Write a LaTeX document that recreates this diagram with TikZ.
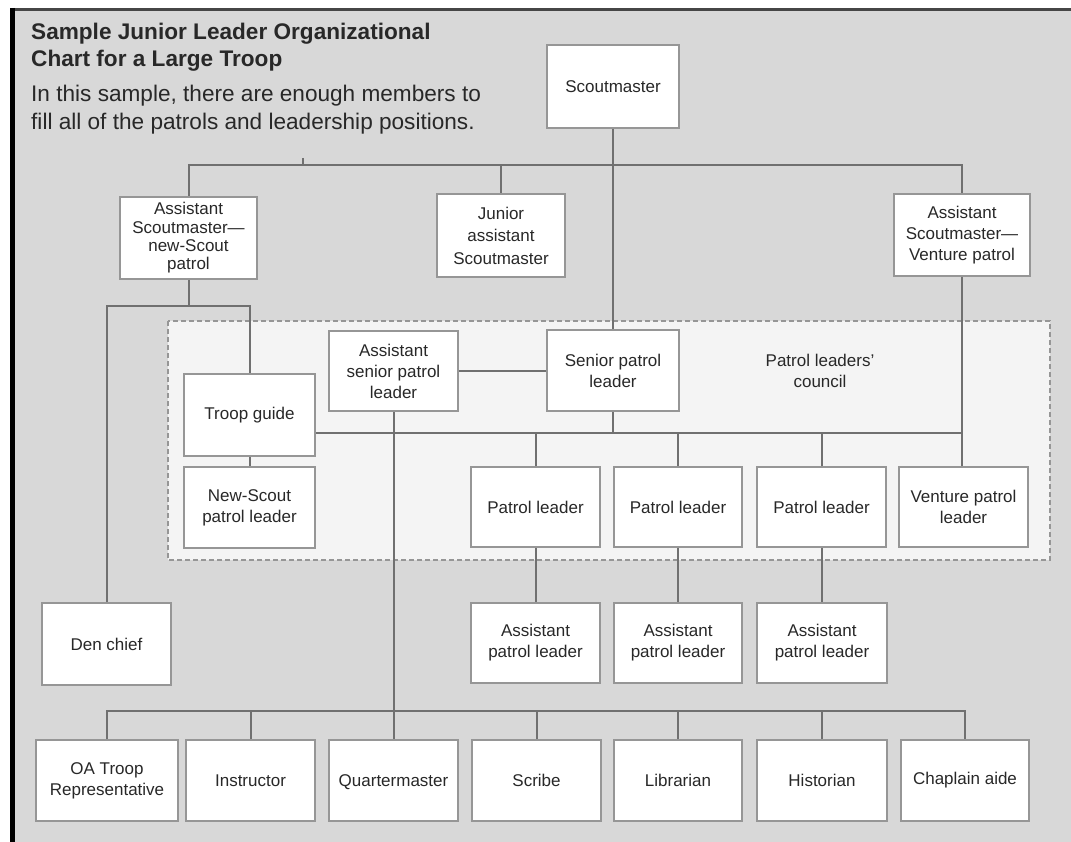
\documentclass[tikz,border=0pt]{standalone}
\usepackage{fontspec}
\setmainfont{Liberation Sans}
\definecolor{bg}{RGB}{216,216,216}
\definecolor{boxgray}{RGB}{150,150,150}
\definecolor{linegray}{RGB}{112,112,112}
\definecolor{txt}{RGB}{40,40,40}
\definecolor{dashgray}{RGB}{150,150,150}
\definecolor{plcfill}{RGB}{244,244,244}
\definecolor{topline}{RGB}{70,70,70}
\newcommand\lblfont{\fontsize{17}{21}\selectfont}
\newcommand\bx[7][]{\node[box, minimum width={#5-#3}, minimum height={#6-#4}, #1] (#2) at ({(#3+#5)/2},{(#4+#6)/2}) {#7};}
\begin{document}
\begin{tikzpicture}[x=1pt,y=-1pt,
  box/.style={draw=boxgray, line width=2pt, fill=white, inner sep=0pt, align=center, font=\lblfont, text=txt},
  conn/.style={draw=linegray, line width=2pt},
  titletext/.style={anchor=base west, inner sep=0pt, text=txt, font=\fontsize{22.6}{27}\selectfont\bfseries},
  subtext/.style={anchor=base west, inner sep=0pt, text=txt, font=\fontsize{22.6}{28}\selectfont},
  council/.style={align=center, inner sep=0pt, text=txt, font=\lblfont}
]
\useasboundingbox (0,0) rectangle (1071,842);
\fill[white] (0,0) rectangle (1071,842);
\fill[bg] (12,9) rectangle (1071,842);
\draw[line width=3pt, topline] (10,9.5) -- (1071,9.5);
\draw[line width=5pt, black] (12,8) -- (12,842);

% title
\node[titletext] (t1) at (31,40) {Sample Junior Leader Organizational};
\node[titletext] (t2) at (31,67) {Chart for a Large Troop};
\node[subtext] (s1) at (31,102) {In this sample, there are enough members to};
\node[subtext] (s2) at (31,130) {fill all of the patrols and leadership positions.};

% patrol leaders' council area
\draw[dashgray, line width=2pt, dash pattern=on 5pt off 3pt, fill=plcfill] (168,321) rectangle (1050,560);
\node[council] (plc) at (820,371) {Patrol leaders'\\council};

% boxes
\bx{sm}{547}{45}{679}{128}{Scoutmaster}
\bx[font=\fontsize{17}{18.3}\selectfont]{asmn}{120}{197}{257}{279}{Assistant\\Scoutmaster—\\new-Scout\\patrol}
\bx[font=\fontsize{17}{22.5}\selectfont]{jasm}{437}{194}{565}{277}{Junior\\assistant\\Scoutmaster}
\bx{asmv}{894}{194}{1030}{276}{Assistant\\Scoutmaster—\\Venture patrol}
\bx{aspl}{329}{331}{458}{411}{Assistant\\senior patrol\\leader}
\bx{spl}{547}{330}{679}{411}{Senior patrol\\leader}
\bx{tg}{184}{374}{315}{456}{Troop guide}
\bx{nspl}{184}{467}{315}{548}{New-Scout\\patrol leader}
\bx{pla}{471}{467}{600}{547}{Patrol leader}
\bx{plb}{614}{467}{742}{547}{Patrol leader}
\bx{plc3}{757}{467}{886}{547}{Patrol leader}
\bx{vpl}{899}{467}{1028}{547}{Venture patrol\\leader}
\bx{den}{42}{603}{171}{685}{Den chief}
\bx{apla}{471}{603}{600}{683}{Assistant\\patrol leader}
\bx{aplb}{614}{603}{742}{683}{Assistant\\patrol leader}
\bx{aplc}{757}{603}{887}{683}{Assistant\\patrol leader}
\bx{oa}{36}{740}{178}{821}{OA Troop\\Representative}
\bx{instr}{186}{740}{315}{821}{Instructor}
\bx[text depth=0pt]{qm}{329}{740}{458}{821}{Quartermaster}
\bx{scribe}{472}{740}{601}{821}{Scribe}
\bx{lib}{614}{740}{742}{821}{Librarian}
\bx{hist}{757}{740}{887}{821}{Historian}
\bx{chap}{901}{740}{1029}{821}{Chaplain aide}

% helper coordinates for buses
\coordinate (b1) at (0,165);
\coordinate (b2) at (0,306);
\coordinate (b3) at (0,433);
\coordinate (b4) at (0,711);
\coordinate (tick) at (303,158);

% connectors
\draw[conn] (sm.south) -- (spl.north);
\draw[conn] (asmn.north) -- (asmn.north |- b1) -- (asmv.north |- b1) -- (asmv.north);
\draw[conn] (jasm.north) -- (jasm.north |- b1);
\draw[conn] (tick) -- (tick |- b1);
\draw[conn] (asmn.south) -- (asmn.south |- b2);
\draw[conn] (den.north) -- (den.north |- b2) -- (tg.north |- b2) -- (tg.north);
\draw[conn] (tg.south) -- (nspl.north);
\draw[conn] (aspl.east) -- (aspl.east -| spl.west);
\draw[conn] (tg.east |- b3) -- (asmv.south |- b3);
\draw[conn] (spl.south) -- (spl.south |- b3);
\draw[conn] (pla.north) -- (pla.north |- b3);
\draw[conn] (plb.north) -- (plb.north |- b3);
\draw[conn] (plc3.north) -- (plc3.north |- b3);
\draw[conn] (asmv.south) -- (asmv.south |- vpl.north);
\draw[conn] (aspl.south) -- (qm.north);
\draw[conn] (pla.south) -- (pla.south |- apla.north);
\draw[conn] (plb.south) -- (plb.south |- aplb.north);
\draw[conn] (plc3.south) -- (plc3.south |- aplc.north);
\draw[conn] (oa.north) -- (oa.north |- b4) -- (chap.north |- b4) -- (chap.north);
\draw[conn] (instr.north) -- (instr.north |- b4);
\draw[conn] (scribe.north) -- (scribe.north |- b4);
\draw[conn] (lib.north) -- (lib.north |- b4);
\draw[conn] (hist.north) -- (hist.north |- b4);
\end{tikzpicture}
\end{document}
